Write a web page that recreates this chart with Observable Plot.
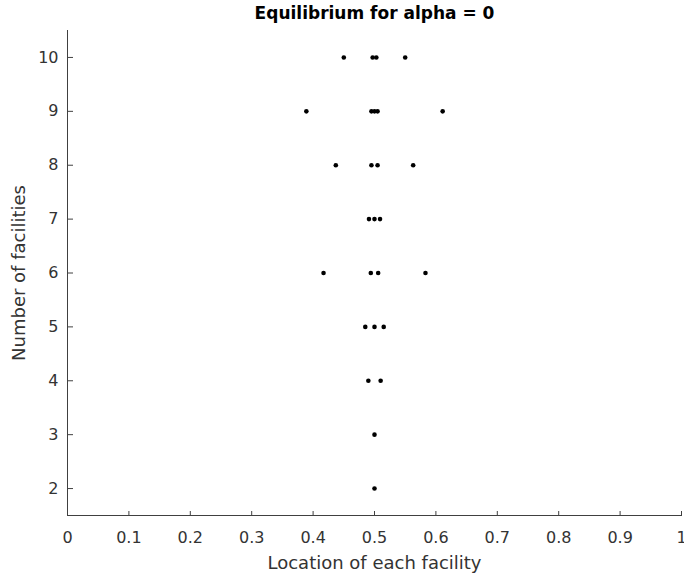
<!DOCTYPE html>
<html><head><meta charset="utf-8">
<script src="https://cdn.jsdelivr.net/npm/d3@7"></script>
<script src="https://cdn.jsdelivr.net/npm/@observablehq/plot@0.6"></script>
<style>
html,body{margin:0;padding:0;background:#fff;}
svg{display:block;}
</style></head><body><div id="chart"></div>
<script>
const title = "Equilibrium for alpha = 0";
const xLabel = "Location of each facility";
const yLabel = "Number of facilities";

const facilities = [2, 3, 4, 5, 6, 7, 8, 9, 10];
const loc2 = [0.5];
const loc3 = [0.5];
const loc4 = [0.49, 0.51];
const loc5 = [0.485, 0.5, 0.515];
const loc6 = [0.417, 0.494, 0.506, 0.583];
const loc7 = [0.491, 0.5, 0.509];
const loc8 = [0.437, 0.495, 0.505, 0.563];
const loc9 = [0.389, 0.495, 0.5, 0.505, 0.611];
const loc10 = [0.45, 0.497, 0.503, 0.55];

const xTicks = [0, 0.1, 0.2, 0.3, 0.4, 0.5, 0.6, 0.7, 0.8, 0.9, 1];
const xTickLabels = ["0", "0.1", "0.2", "0.3", "0.4", "0.5", "0.6", "0.7", "0.8", "0.9", "1"];
const yTicks = [2, 3, 4, 5, 6, 7, 8, 9, 10];
const xDomain = [0, 1];
const yDomain = [1.5, 10.5];

const locations = [loc2, loc3, loc4, loc5, loc6, loc7, loc8, loc9, loc10];
const points = facilities.flatMap((n, i) => locations[i].map(x => ({n, x})));

const ink = "#333";
const axisInk = "#404040";

const chart = Plot.plot({
  width: 684, height: 578,
  marginTop: 30, marginRight: 3, marginBottom: 63, marginLeft: 67,
  style: {fontFamily: "DejaVu Sans", background: "#fff", color: ink, overflow: "visible"},
  x: {domain: xDomain},
  y: {domain: yDomain},
  marks: [
    Plot.ruleX([xDomain[0]], {stroke: axisInk}),
    Plot.ruleY([yDomain[0]], {stroke: axisInk}),
    Plot.axisX({ticks: xTicks, anchor: "top", frameAnchor: "bottom", tickSize: 5, fill: "none", stroke: axisInk, label: null}),
    Plot.axisY({ticks: yTicks, anchor: "right", frameAnchor: "left", tickSize: 5, fill: "none", stroke: axisInk, label: null}),
    Plot.axisX({ticks: xTicks, anchor: "bottom", tickSize: 0, tickPadding: 16, fontSize: 16, fill: ink,
      tickFormat: d => xTickLabels[xTicks.indexOf(d)], label: null}),
    Plot.axisY({ticks: yTicks, anchor: "left", tickSize: 0, tickPadding: 9, fontSize: 16, fill: ink, label: null}),
    Plot.axisX({ticks: [], anchor: "bottom", tickSize: 0, fontSize: 18, fill: ink,
      label: xLabel, labelAnchor: "center", labelOffset: 53, labelArrow: "none"}),
    Plot.axisY({ticks: [], anchor: "left", tickSize: 0, fontSize: 18, fill: ink,
      label: yLabel, labelAnchor: "center", labelOffset: 55, labelArrow: "none"}),
    Plot.dot(points, {x: "x", y: "n", r: 2.3, fill: "#000"}),
    Plot.text([title], {frameAnchor: "top", dy: -24, lineAnchor: "top", fontWeight: "bold", fontSize: 17, fill: "#000"})
  ]
});
document.getElementById("chart").appendChild(chart);
</script></body></html>
